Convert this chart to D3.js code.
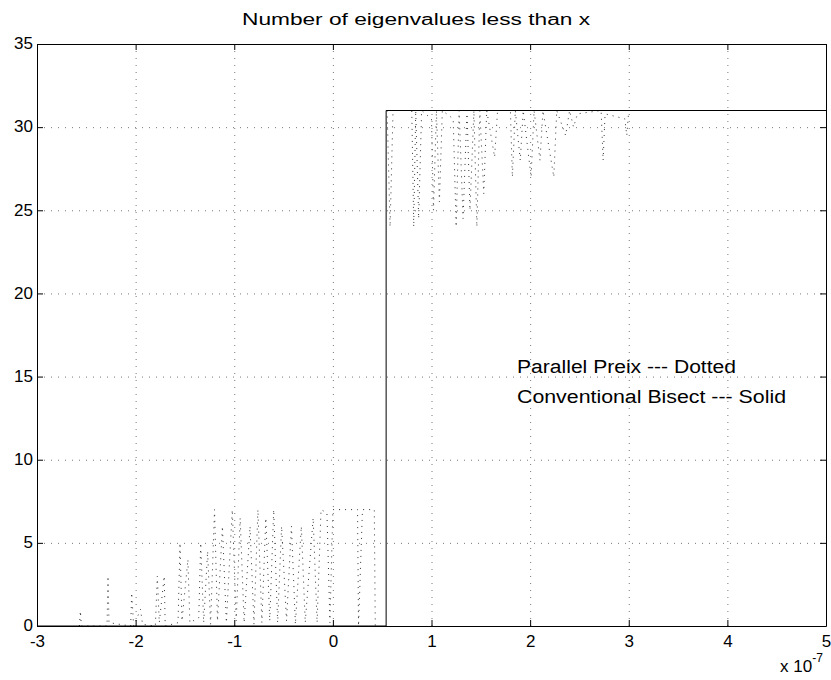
<!DOCTYPE html>
<html>
<head>
<meta charset="utf-8">
<script src="https://cdn.jsdelivr.net/npm/d3@7"></script>
<style>
  body { margin: 0; background: #fff; }
  svg { font-family: "Liberation Sans", Arial, Helvetica, sans-serif; }
  .axis text { font-size: 17px; fill: #000; }
  .axis path, .axis line { stroke: #000; }
  .grid line { stroke: #777; stroke-dasharray: 1,6; }
  .grid path { display: none; }
</style>
</head>
<body>
<svg id="chart" width="831" height="680"></svg>
<script>
// x values are in units of 1e-7
var xTicks = [-3, -2, -1, 0, 1, 2, 3, 4, 5];
var yTicks = [0, 5, 10, 15, 20, 25, 30, 35];

// conventional bisection (solid)
var bisectX = [-3, 0.54, 0.54, 5];
var bisectY = [0, 0, 31, 31];

// parallel prefix, left group (dotted)
var prefixLeftX = [-2.57, -2.56, -2.55, -2.29, -2.28, -2.27, -2.05, -2.04, -2.02, -1.95, -1.93,
  -1.80, -1.78, -1.76, -1.71, -1.70, -1.57, -1.55, -1.53, -1.47, -1.45,
  -1.36, -1.34, -1.31, -1.27, -1.24, -1.20, -1.17, -1.12, -1.08, -1.02, -0.98, -0.94, -0.90,
  -0.84, -0.80, -0.76, -0.72, -0.68, -0.64, -0.60, -0.56, -0.52, -0.47, -0.42, -0.38, -0.32, -0.28,
  -0.20, -0.16, -0.12, -0.06, -0.03, 0.00, 0.02, 0.25, 0.26, 0.30, 0.42, 0.43];
var prefixLeftY = [0, 0.9, 0, 0, 3, 0.2, 0, 2, 0, 1, 0.1,
  0, 3, 0.2, 3, 0,  0.2, 5, 0.3, 4, 0.2,
  0.5, 5, 0.2, 4.5, 0.1, 7, 0.3, 6, 0.2, 7, 0.3, 6.5, 0.2,
  6, 0.1, 7, 0.2, 6.5, 0.3, 7, 0.2, 6, 0.3, 6, 0.1, 6, 0.2,
  6.5, 0.2, 7, 6.8, 0.2, 7, 7, 7, 0, 7, 7, 0];

// parallel prefix, right group (dotted)
var prefixRightX = [0.55, 0.58, 0.61, 0.80, 0.82, 0.84, 0.87, 0.90, 1.00, 1.02, 1.05, 1.08, 1.11,
  1.22, 1.25, 1.28, 1.32, 1.36, 1.39, 1.43, 1.46, 1.49, 1.53, 1.56, 1.64, 1.67,
  1.80, 1.82, 1.85, 1.90, 1.93, 2.01, 2.04, 2.10, 2.13, 2.24, 2.27, 2.36, 2.40, 2.44, 2.48,
  2.72, 2.74, 2.76, 2.96, 2.98, 3.00];
var prefixRightY = [31, 24, 31, 31, 24, 31, 24.5, 31, 30.5, 25, 31, 25.5, 31,
  30.5, 24, 31, 24.5, 31, 25, 31, 24, 31, 26, 31, 28.2, 31,
  31, 27, 31, 28, 31, 27, 31, 28, 31, 27, 31, 29.5, 31, 30, 30.8,
  31, 28, 30.8, 30.5, 29.5, 31];

var svg = d3.select("#chart");
var margin = {top: 44, right: 5, bottom: 54, left: 37};
var width = 831 - margin.left - margin.right;
var height = 680 - margin.top - margin.bottom;

var x = d3.scaleLinear().domain([-3, 5]).range([0, width]);
var y = d3.scaleLinear().domain([0, 35]).range([height, 0]);

var g = svg.append("g").attr("transform", "translate(" + margin.left + "," + margin.top + ")");

// grid
g.append("g").attr("class", "grid")
    .attr("transform", "translate(0," + height + ")")
    .call(d3.axisBottom(x).tickValues(xTicks.slice(1, -1)).tickSize(-height).tickFormat(""));
g.append("g").attr("class", "grid")
    .call(d3.axisLeft(y).tickValues(yTicks.slice(1, -1)).tickSize(-width).tickFormat(""));

// data
function zip(xs, ys) { return xs.map(function(d, i) { return [d, ys[i]]; }); }
var line = d3.line().x(function(d) { return x(d[0]); }).y(function(d) { return y(d[1]); });

[zip(prefixLeftX, prefixLeftY), zip(prefixRightX, prefixRightY)].forEach(function(pts) {
  g.append("path").datum(pts)
      .attr("d", line).attr("fill", "none").attr("stroke", "#333")
      .attr("stroke-width", 1).attr("stroke-dasharray", "1,5");
});

g.append("path").datum(zip(bisectX, bisectY))
    .attr("d", line).attr("fill", "none").attr("stroke", "#000").attr("stroke-width", 1);

// axes, ticks pointing inward on all four sides
var fmt = function(d) { return String(d); };
g.append("g").attr("class", "axis")
    .attr("transform", "translate(0," + height + ")")
    .call(d3.axisBottom(x).tickValues(xTicks).tickFormat(fmt).tickSizeInner(-6).tickSizeOuter(0).tickPadding(9));
g.append("g").attr("class", "axis")
    .call(d3.axisLeft(y).tickValues(yTicks).tickFormat(fmt).tickSizeInner(-6).tickSizeOuter(0).tickPadding(4))
  .selectAll("text").attr("dy", "0.28em");
g.append("g").attr("class", "axis")
    .call(d3.axisTop(x).tickValues(xTicks).tickSizeInner(-6).tickSizeOuter(0).tickFormat(""));
g.append("g").attr("class", "axis")
    .attr("transform", "translate(" + width + ",0)")
    .call(d3.axisRight(y).tickValues(yTicks).tickSizeInner(-6).tickSizeOuter(0).tickFormat(""));

// title
svg.append("text")
    .attr("x", 242).attr("y", 25)
    .attr("font-size", 16).attr("textLength", 348).attr("lengthAdjust", "spacingAndGlyphs")
    .text("Number of eigenvalues less than x");

// annotations
svg.append("text").attr("x", 517).attr("y", 373)
    .attr("font-size", 18).attr("textLength", 219).attr("lengthAdjust", "spacingAndGlyphs")
    .text("Parallel Preix --- Dotted");
svg.append("text").attr("x", 517).attr("y", 403)
    .attr("font-size", 18).attr("textLength", 269).attr("lengthAdjust", "spacingAndGlyphs")
    .text("Conventional Bisect --- Solid");

// exponent label
var ex = svg.append("text").attr("x", 780).attr("y", 672).attr("font-size", 17);
ex.append("tspan").text("x 10");
ex.append("tspan").attr("dy", -10).attr("font-size", 12).text("-7");
</script>
</body>
</html>
